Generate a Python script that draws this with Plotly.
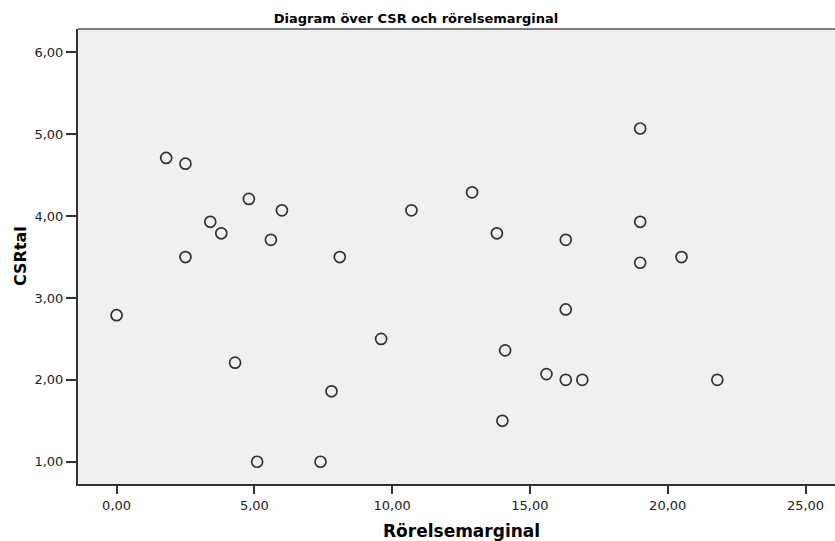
import plotly.graph_objects as go

rorelsemarginal = [1.8, 2.5, 4.8, 6.0, 3.4, 3.8, 5.6, 2.5, 8.1, 10.7,
                   0.0, 4.3, 9.6, 7.8, 5.1, 7.4,
                   12.9, 13.8, 16.3, 14.1, 14.0, 15.6, 16.3, 16.9, 16.3,
                   19.0, 19.0, 19.0, 20.5, 21.8]
csrtal = [4.71, 4.64, 4.21, 4.07, 3.93, 3.79, 3.71, 3.50, 3.50, 4.07,
          2.79, 2.21, 2.50, 1.86, 1.00, 1.00,
          4.29, 3.79, 3.71, 2.36, 1.50, 2.07, 2.00, 2.00, 2.86,
          5.07, 3.93, 3.43, 3.50, 2.00]

x_ticks = [0, 5, 10, 15, 20, 25]
y_ticks = [1, 2, 3, 4, 5, 6]

W, H = 835, 541
L, R, T, B = 78, 0, 29, 57

fig = go.Figure()
fig.add_trace(go.Scatter(
    x=rorelsemarginal, y=csrtal, mode="markers",
    marker=dict(symbol="circle-open", size=11, color="#333333",
                line=dict(width=1.7, color="#333333")),
    showlegend=False, hoverinfo="x+y"))

font_family = "DejaVu Sans, Liberation Sans, Arial, sans-serif"

fig.update_layout(
    width=W, height=H,
    margin=dict(l=L, r=R, t=T, b=B, autoexpand=False),
    paper_bgcolor="white",
    plot_bgcolor="#f0f0f0",
    separators=",.",
    font=dict(family=font_family, size=13, color="#222222"),
    title=dict(text="<b>Diagram över CSR och rörelsemarginal</b>",
               x=416 / W, xanchor="center", y=1 - 18 / H, yanchor="middle",
               font=dict(family=font_family, size=13, color="#000000")),
)

fig.update_xaxes(
    range=[-1.4, 26.07], tickvals=x_ticks, tickformat=".2f",
    showgrid=False, zeroline=False, automargin=False,
    showline=True, linecolor="#333333", linewidth=2,
    ticks="outside", ticklen=8, tickwidth=2, tickcolor="#333333",
    tickfont=dict(size=13, color="#222222"),
)
fig.update_yaxes(
    range=[0.728, 6.285], tickvals=y_ticks, tickformat=".2f",
    showgrid=False, zeroline=False, automargin=False,
    showline=True, linecolor="#333333", linewidth=2,
    ticks="outside", ticklen=10, tickwidth=2, tickcolor="#333333",
    tickfont=dict(size=13, color="#222222"),
)

plot_w = W - L - R
plot_h = H - T - B
fig.add_annotation(text="<b>Rörelsemarginal</b>", xref="paper", yref="paper",
                   x=(461.5 - L) / plot_w, y=-(531 - (H - B)) / plot_h,
                   xanchor="center", yanchor="middle", showarrow=False,
                   font=dict(family=font_family, size=17, color="#000000"))
fig.add_annotation(text="<b>CSRtal</b>", xref="paper", yref="paper",
                   x=-(L - 20) / plot_w, y=(H - B - 256) / plot_h, textangle=-90,
                   xanchor="center", yanchor="middle", showarrow=False,
                   font=dict(family=font_family, size=16, color="#000000"))

fig.add_shape(type="line", xref="paper", yref="paper", x0=0, x1=1, y0=1, y1=1,
              line=dict(color="#555555", width=1.5))

fig.write_html("out.html", config={"displayModeBar": False},
               post_script="document.body.style.margin='0';document.body.style.overflow='hidden';")
